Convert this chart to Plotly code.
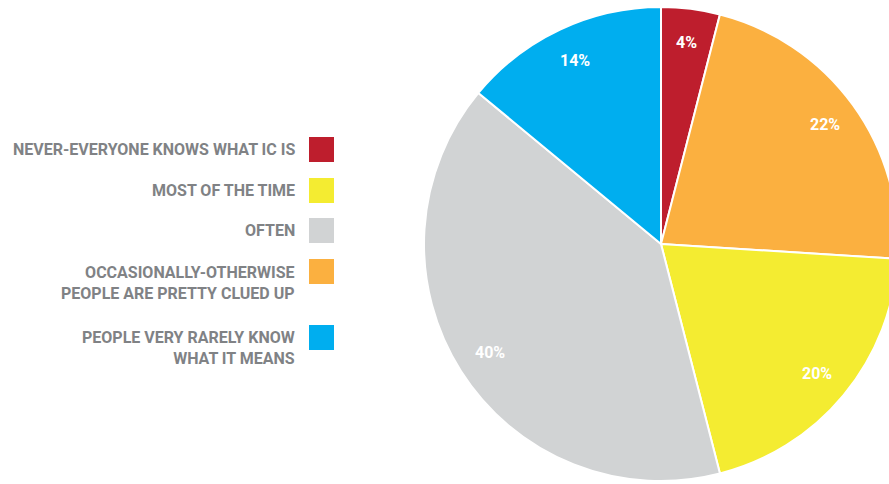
import math
import plotly.graph_objects as go

# Survey responses: how often people know what IC means
categories = [
    "NEVER-EVERYONE KNOWS WHAT IC IS",
    "OCCASIONALLY-OTHERWISE<br>PEOPLE ARE PRETTY CLUED UP",
    "MOST OF THE TIME",
    "OFTEN",
    "PEOPLE VERY RARELY KNOW<br>WHAT IT MEANS",
]
values = [4, 22, 20, 40, 14]
colors = ["#BE1E2D", "#FBB040", "#F4EC31", "#D1D3D4", "#00AEEF"]

# Legend order (top to bottom) as indices into the lists above
legend_order = [0, 2, 3, 1, 4]

W, H = 900, 484
FONT = "Roboto, sans-serif"
TEXT_GREY = "#808285"

cx, cy, r = 661, 244, 237

fig = go.Figure(
    go.Pie(
        labels=categories,
        values=values,
        sort=False,
        direction="clockwise",
        rotation=0,
        marker=dict(colors=colors, line=dict(color="white", width=2)),
        textinfo="none",
        hoverinfo="label+percent",
        showlegend=False,
        domain=dict(x=[(cx - r) / W, (cx + r) / W], y=[(H - cy - r) / H, (H - cy + r) / H]),
    )
)

annotations = []
shapes = []

# Percentage labels placed near the outer part of each slice, at its mid-angle
total = sum(values)
cum = 0
for v in values:
    mid = (cum + v / 2) / total * 2 * math.pi
    cum += v
    lr = 0.855 * r
    px = cx + lr * math.sin(mid)
    py = cy - lr * math.cos(mid)
    annotations.append(dict(
        text=f"{v}%", xref="paper", yref="paper",
        x=px / W, y=1 - py / H, xanchor="center", yanchor="middle",
        showarrow=False,
        font=dict(family=FONT, size=16, color="white", weight="bold"),
    ))

# Custom legend: right-aligned text with a colour swatch to its right
swatch_tops = [137, 178, 218, 259, 325]
text_centres = [150, 190, 230, 283, 348]
for row, idx in enumerate(legend_order):
    top = swatch_tops[row]
    shapes.append(dict(
        type="rect", xref="paper", yref="paper",
        x0=309 / W, x1=334 / W, y0=1 - (top + 25) / H, y1=1 - top / H,
        fillcolor=colors[idx], line=dict(width=0),
    ))
    annotations.append(dict(
        text=categories[idx], xref="paper", yref="paper",
        x=297 / W, y=1 - text_centres[row] / H, xanchor="right", yanchor="middle",
        align="right", showarrow=False,
        font=dict(family=FONT, size=16, color=TEXT_GREY, weight="bold"),
    ))

fig.update_layout(
    width=W, height=H,
    margin=dict(l=0, r=0, t=0, b=0),
    paper_bgcolor="white", plot_bgcolor="white",
    shapes=shapes, annotations=annotations,
)

fig.write_html("out.html", post_script="document.body.style.overflow='hidden';document.body.style.margin='0';")
